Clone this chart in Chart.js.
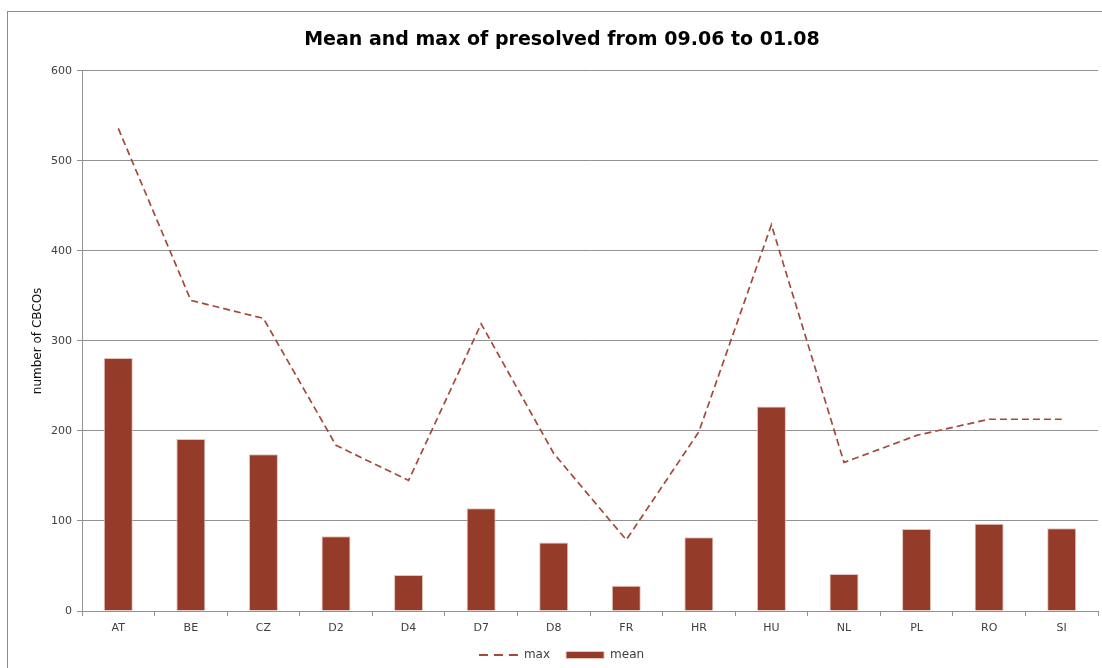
<!DOCTYPE html>
<html>
<head>
<meta charset="utf-8">
<script src="https://cdn.jsdelivr.net/npm/chart.js@4/dist/chart.umd.min.js"></script>
<style>
  html, body { margin: 0; padding: 0; background: #ffffff; }
  #wrap { position: relative; width: 1102px; height: 668px; overflow: hidden; }
  #frame { position: absolute; left: 7px; top: 11px; right: -6px; bottom: -6px; border: 1px solid #8c8c8c; }
  canvas { position: absolute; left: 0; top: 0; }
</style>
</head>
<body>
<div id="wrap">
  <div id="frame"></div>
  <canvas id="chart" width="1102" height="668"></canvas>
</div>
<script>
// Zones (x-axis categories)
const zones = ['AT', 'BE', 'CZ', 'D2', 'D4', 'D7', 'D8', 'FR', 'HR', 'HU', 'NL', 'PL', 'RO', 'SI'];
// Mean number of presolved CBCOs per zone
const meanValues = [281, 191, 174, 83, 40, 114, 76, 28, 82, 227, 41, 91, 97, 92];
// Max number of presolved CBCOs per zone
const maxValues = [536, 345, 325, 184, 145, 319, 175, 79, 199, 429, 165, 195, 213, 213];
// Y-axis range and step
const yMin = 0;
const yMax = 600;
const yStep = 100;

const barColor = '#953b29';
const lineColor = '#a34a3b';
const gridColor = '#929292';
const textColor = '#404040';
const fontFamily = '"DejaVu Sans", "Liberation Sans", sans-serif';

// Dashed-line legend symbol for the "max" series
function dashedSymbol() {
  const c = document.createElement('canvas');
  c.width = 40;
  c.height = 4;
  const g = c.getContext('2d');
  g.strokeStyle = lineColor;
  g.lineWidth = 2;
  g.setLineDash([9, 6]);
  g.beginPath();
  g.moveTo(0, 2);
  g.lineTo(40, 2);
  g.stroke();
  return c;
}

new Chart(document.getElementById('chart'), {
  type: 'bar',
  data: {
    labels: zones,
    datasets: [
      {
        type: 'line',
        label: 'max',
        data: maxValues,
        borderColor: lineColor,
        backgroundColor: lineColor,
        borderWidth: 1.7,
        borderDash: [7, 4],
        pointRadius: 0,
        pointStyle: dashedSymbol(),
        tension: 0,
        fill: false,
        order: 0
      },
      {
        type: 'bar',
        label: 'mean',
        data: meanValues,
        backgroundColor: barColor,
        borderColor: '#e6c3bb',
        borderWidth: 1,
        pointStyle: 'rect',
        barPercentage: 1,
        categoryPercentage: 0.4,
        order: 1
      }
    ]
  },
  options: {
    responsive: false,
    animation: false,
    devicePixelRatio: 1,
    layout: { padding: { left: 26, right: 4, top: 0, bottom: -3 } },
    plugins: {
      title: {
        display: true,
        text: 'Mean and max of presolved from 09.06 to 01.08',
        color: '#000000',
        font: { family: fontFamily, size: 19, weight: 'bold' },
        padding: { top: 29, bottom: 19 }
      },
      legend: {
        display: true,
        position: 'bottom',
        labels: {
          usePointStyle: true,
          pointStyleWidth: 38,
          boxHeight: 7,
          padding: 16,
          color: textColor,
          font: { family: fontFamily, size: 12 }
        }
      },
      tooltip: { enabled: false }
    },
    scales: {
      x: {
        offset: true,
        grid: {
          offset: true,
          drawOnChartArea: false,
          drawTicks: true,
          tickLength: 5,
          color: gridColor
        },
        border: { display: true, color: gridColor, width: 1 },
        ticks: {
          padding: 6,
          color: textColor,
          font: { family: fontFamily, size: 11 }
        },
        afterFit: (scale) => { scale.height = 22; }
      },
      y: {
        min: yMin,
        max: yMax,
        grid: {
          color: gridColor,
          lineWidth: 1,
          tickLength: 5,
          drawTicks: true
        },
        border: { display: true, color: gridColor, width: 1 },
        ticks: {
          stepSize: yStep,
          padding: 5,
          color: textColor,
          font: { family: fontFamily, size: 11 }
        },
        title: {
          display: true,
          text: 'number of CBCOs',
          color: '#111111',
          font: { family: fontFamily, size: 12 },
          padding: { top: 5, bottom: 0 }
        },
        afterFit: (scale) => { scale.width = 56; }
      }
    }
  }
});
</script>
</body>
</html>
